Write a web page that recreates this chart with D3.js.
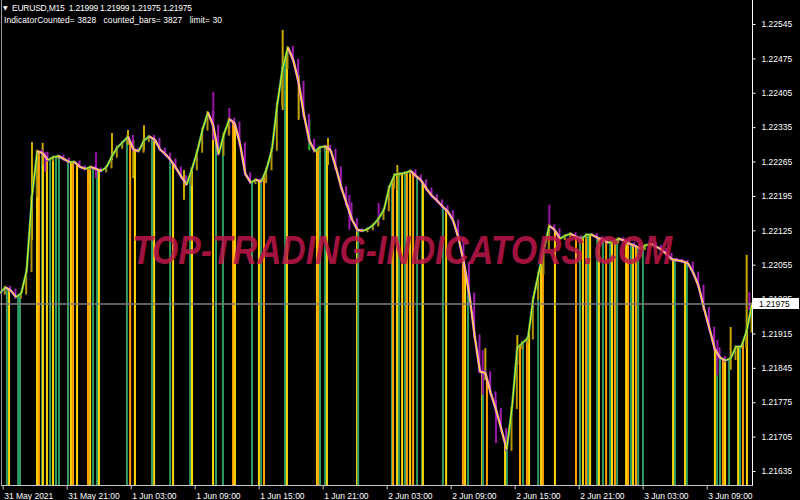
<!DOCTYPE html>
<html><head><meta charset="utf-8">
<script src="https://cdn.jsdelivr.net/npm/d3@7/dist/d3.min.js"></script>
<style>html,body{margin:0;padding:0;background:#000;}svg{display:block;}</style>
</head><body><svg id="c" width="800" height="500"></svg>
<script>
// 30-minute closes (every second M15 bar)
const closes = [1.21997,1.22009,1.22003,1.21989,1.21997,1.22043,1.22195,1.22286,1.22282,1.22268,
1.22274,1.22276,1.22270,1.22264,1.22264,1.22254,1.22250,1.22254,1.22250,1.22246,
1.22254,1.22276,1.22294,1.22304,1.22316,1.22290,1.22286,1.22308,1.22316,1.22310,
1.22290,1.22280,1.22268,1.22252,1.22234,1.22218,1.22250,1.22286,1.22331,1.22365,
1.22337,1.22280,1.22321,1.22351,1.22343,1.22301,1.22240,1.22222,1.22228,1.22224,
1.22250,1.22290,1.22382,1.22456,1.22497,1.22471,1.22426,1.22359,1.22308,1.22286,
1.22294,1.22296,1.22288,1.22252,1.22212,1.22179,1.22147,1.22126,1.22124,1.22128,
1.22136,1.22149,1.22167,1.22213,1.22238,1.22240,1.22242,1.22246,1.22236,1.22226,
1.22209,1.22195,1.22185,1.22173,1.22163,1.22144,1.22108,1.22058,1.21995,1.21910,
1.21837,1.21835,1.21794,1.21760,1.21720,1.21679,1.21764,1.21886,1.21896,1.21906,
1.21987,1.22038,1.22088,1.22134,1.22126,1.22108,1.22114,1.22118,1.22112,1.22108,
1.22116,1.22116,1.22110,1.22106,1.22100,1.22102,1.22108,1.22104,1.22098,1.22094,
1.22088,1.22094,1.22098,1.22092,1.22086,1.22076,1.22066,1.22064,1.22062,1.22058,
1.22038,1.22011,1.21966,1.21926,1.21884,1.21866,1.21860,1.21864,1.21888,1.21888,
1.21920,1.21975];

// indicator histogram: M15 bar index and state (G=green, Y=yellow, O=orange)
const histBar = [2.6,3.4,6.8,7.5,13.9,14.6,15.8,16.1,17.6,18.8,19.9,21,22.1,25.5,26.6,27.4,28.9,33,33.8,34.9,36.4,37.1,47.6,48.8,50.6,57,57.8,63.8,64.9,71.3,72,79.9,81,83.6,87.4,88.1,
94.5,97.1,97.9,99,106.9,107.6,118.9,119.3,120,121.9,122.6,133.9,134.3,147,147.4,148.9,149.6,150.8,151.9,152.6,153.8,154.9,156.4,158.3,158.6,166.1,167.3,173.6,174.4,175.5,180.8,181.1,182.6,
189.4,190.1,195,196.1,197.6,198.4,201.8,202.9,203.6,208.1,216,217.5,218.6,219.8,220.5,221.3,223.9,224.6,226.1,227.3,228.8,229.5,230.6,231.4,234.8,235.5,236.6,237.4,238.5,239.3,241.1,252.4,253.1,256.9,257.6,268.1,268.9,270,271.1,271.9,273.4,276.8,277.5,278.6,280.1];
const histState = ("GYGGYOGYYGYGGGYOYOYGGYGOYGYGYGYYGGOY" +
  "GYGOGYYOGGYYGGOYGYGOYOGGYGYOYGYGO" +
  "YGOGOYGYOYOGYOGYGYGOGYOGYOGYOGGYGYGYGGOYGYGOY").split("");

// notable candle wicks: bar index, high, low, direction (u=up, d=down, g=signal)
const wickBar  = [12,16,17,36,42,48,50,54,69,80,86,106,112,116,123,131,142,149,181,182,186,194,206,269,274,280,281];
const wickHigh = [1.22305,1.22303,1.22284,1.22284,1.22323,1.22329,1.22309,1.22339,1.22248,1.22407,1.22374,1.22533,1.22441,1.22350,1.22313,1.22197,1.22181,1.22258,1.21881,1.21885,1.21780,1.21912,1.22177,1.21902,1.21928,1.22075,1.21999];
const wickLow  = [1.22105,1.22258,1.22244,1.22231,1.22268,1.22299,1.22231,1.22288,1.22187,1.22309,1.22319,1.22370,1.22350,1.22288,1.22258,1.22126,1.22136,1.22207,1.21790,1.21820,1.21692,1.21851,1.22105,1.21830,1.21841,1.21922,1.21963];
const wickDir  = ["u","u","d","d","u","u","u","u","u","d","d","u","u","g","u","d","d","u","d","u","d","u","d","d","u","u","d"];

const priceTicks = [1.22545,1.22475,1.22405,1.22335,1.22265,1.22195,1.22125,1.22055,1.21985,1.21915,1.21845,1.21775,1.21705,1.21635];
const timeTickBar = [1,25,49,73,97,121,145,169,193,217,241,265];
const timeTickLabel = ["31 May 2021","31 May 21:00","1 Jun 03:00","1 Jun 09:00","1 Jun 15:00","1 Jun 21:00","2 Jun 03:00","2 Jun 09:00","2 Jun 15:00","2 Jun 21:00","3 Jun 03:00","3 Jun 09:00"];
const lastPrice = 1.21975;
const header1 = "EURUSD,M15  1.21999 1.21999 1.21975 1.21975";
const header2 = "IndicatorCounted= 3828   counted_bars= 3827   limit= 30";
const watermark = "TOP-TRADING-INDICATORS.COM";

const svg = d3.select("#c");
const W = 752, H = 485.5;
const FONT = "Liberation Sans, Arial, sans-serif";
const x = d3.scaleLinear().domain([0, 282]).range([0, 752]);
const y = d3.scaleLinear().domain([1.21635, 1.22545]).range([471, 24]);
const histColor = {G:"#2e9b62", Y:"#ffd700", O:"#ffa000"};

svg.append("rect").attr("width",800).attr("height",500).attr("fill","#000");
svg.append("clipPath").attr("id","pc").append("rect").attr("x",0).attr("y",0).attr("width",W).attr("height",H);
const plot = svg.append("g").attr("clip-path","url(#pc)");

function priceAt(b){
  const t = b/2, i = Math.max(0, Math.min(closes.length-2, Math.floor(t)));
  return d3.interpolateNumber(closes[i], closes[i+1])(Math.min(1, t-i));
}

// histogram lines
plot.selectAll("line.h").data(histBar).join("line")
  .attr("x1", d=>x(d)).attr("x2", d=>x(d))
  .attr("y1", d=>y(priceAt(d))).attr("y2", H)
  .attr("stroke", (d,i)=>histColor[histState[i]]).attr("stroke-width", 2);

// wicks
plot.selectAll("line.w").data(wickBar).join("line")
  .attr("x1", d=>x(d)).attr("x2", d=>x(d))
  .attr("y1", (d,i)=>y(wickHigh[i])).attr("y2", (d,i)=>y(wickLow[i]))
  .attr("stroke", (d,i)=>wickDir[i]==="u" ? "#c8a800" : wickDir[i]==="g" ? "#22c030" : "#9a10a8")
  .attr("stroke-width", 2);

// candle bodies between consecutive closes
const segs = d3.range(1, closes.length);
plot.selectAll("rect.b").data(segs).join("rect")
  .attr("x", i=>x(2*i)-1.5).attr("width", 2)
  .attr("y", i=>y(Math.max(closes[i],closes[i-1]))-1.5)
  .attr("height", i=>Math.abs(y(closes[i])-y(closes[i-1]))+3)
  .attr("fill", i=>closes[i]>=closes[i-1] ? "#b09400" : "#a020b0");

// price line: colored under-stroke then yellow
plot.selectAll("line.u").data(segs).join("line")
  .attr("x1", i=>x(2*i-2)).attr("x2", i=>x(2*i))
  .attr("y1", i=>y(closes[i-1])).attr("y2", i=>y(closes[i]))
  .attr("stroke", i=>closes[i]>=closes[i-1] ? "#2fb070" : "#ff80ff")
  .attr("stroke-width", 2.4);
plot.selectAll("line.v").data(segs).join("line")
  .attr("x1", i=>x(2*i-2)).attr("x2", i=>x(2*i))
  .attr("y1", i=>y(closes[i-1])).attr("y2", i=>y(closes[i]))
  .attr("stroke", "#ffee00").attr("stroke-width", 1);

// current price line
plot.append("line").attr("x1",0).attr("x2",W).attr("y1",y(lastPrice)).attr("y2",y(lastPrice))
  .attr("stroke","#7f7f7f").attr("stroke-width",1.5);

// watermark
svg.append("g").attr("transform","translate(132,264) scale(1,1.3)")
  .append("text").attr("x",0).attr("y",0).text(watermark)
  .attr("font-family",FONT).attr("font-weight","bold").attr("font-style","italic")
  .attr("font-size",31).attr("textLength",540).attr("lengthAdjust","spacingAndGlyphs")
  .attr("fill","#c0164a").attr("fill-opacity",0.85);

// frame
svg.append("line").attr("x1",1.5).attr("x2",1.5).attr("y1",0).attr("y2",H).attr("stroke","#9a9a9a");
svg.append("line").attr("x1",W+0.5).attr("x2",W+0.5).attr("y1",0).attr("y2",H).attr("stroke","#ffffff");
svg.append("line").attr("x1",1).attr("x2",W+1).attr("y1",H).attr("y2",H).attr("stroke","#c8c8c8");

// right axis
const ya = svg.append("g").attr("transform",`translate(${W+0.5},0)`)
  .call(d3.axisRight(y).tickValues(priceTicks).tickSize(3).tickPadding(6).tickFormat(d3.format(".5f")));
ya.select(".domain").remove();
ya.selectAll("line").attr("stroke","#fff");
ya.selectAll("text").attr("fill","#fff").attr("font-family",FONT).attr("font-size",8.5);

// bottom axis
const xa = svg.append("g").attr("transform",`translate(0,${H})`)
  .call(d3.axisBottom(x).tickValues(timeTickBar).tickSize(4).tickPadding(3).tickFormat((d,i)=>timeTickLabel[i]));
xa.select(".domain").remove();
xa.selectAll("line").attr("stroke","#c8c8c8");
xa.selectAll("text").attr("fill","#fff").attr("text-anchor","start").attr("dx",1)
  .attr("font-family",FONT).attr("font-size",8.5);

// last price label
const ly = y(lastPrice);
svg.append("rect").attr("x",W+1).attr("y",ly-6).attr("width",46).attr("height",11).attr("fill","#fff");
svg.append("text").attr("x",W+7).attr("y",ly+3).text(d3.format(".5f")(lastPrice))
  .attr("fill","#000").attr("font-family",FONT).attr("font-size",8.5);

// header
svg.append("text").attr("x",3).attr("y",10).text("▼").attr("fill","#fff").attr("font-size",6)
  .attr("font-family","DejaVu Sans, sans-serif");
svg.append("text").attr("x",12).attr("y",11).text(header1).attr("fill","#fff")
  .attr("font-family",FONT).attr("font-size",8.5).attr("textLength",180).attr("lengthAdjust","spacing").style("white-space","pre");
svg.append("text").attr("x",4).attr("y",23).text(header2).attr("fill","#fff")
  .attr("font-family",FONT).attr("font-size",8.5).attr("textLength",218).attr("lengthAdjust","spacing").style("white-space","pre");
</script></body></html>
